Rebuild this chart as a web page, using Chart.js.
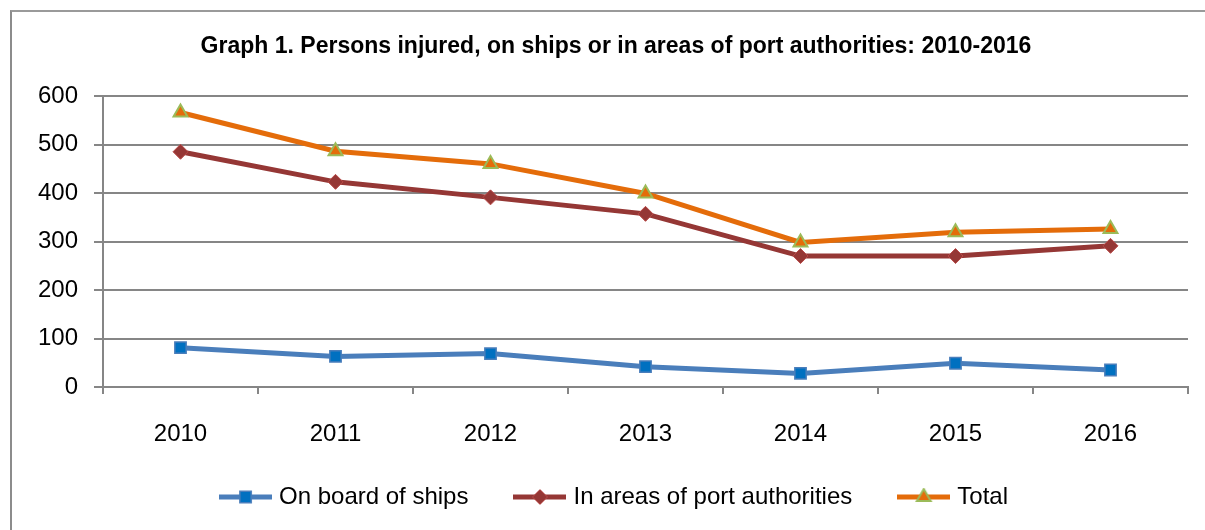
<!DOCTYPE html>
<html>
<head>
<meta charset="utf-8">
<script src="https://cdn.jsdelivr.net/npm/chart.js@4.4.0/dist/chart.umd.min.js"></script>
<style>
  body { margin: 0; background: #fff; }
  #wrap { position: relative; width: 1205px; height: 530px; overflow: hidden; }
  #frame { position: absolute; left: 10px; top: 10px; width: 1300px; height: 600px;
           border-left: 2px solid #8c8c8c; border-top: 2px solid #9a9a9a; }
  #chart { position: absolute; left: 0; top: 0; }
</style>
</head>
<body>
<div id="wrap">
  <div id="frame"></div>
  <canvas id="chart" width="1205" height="530"></canvas>
</div>
<script>
// Values
const years = ['2010', '2011', '2012', '2013', '2014', '2015', '2016'];
const onBoard = [81, 63, 69, 42, 28, 49, 35];
const portAreas = [485, 423, 391, 357, 270, 270, 291];
const totals = [566, 486, 460, 399, 298, 319, 326];
const yTicks = [0, 100, 200, 300, 400, 500, 600];

const FONT = "'Liberation Sans', Arial, sans-serif";
const GRID = '#868686';

const series = [
  { label: 'On board of ships', data: onBoard, line: '#4a7ebb', fill: '#0070c0', edge: '#4a7ebb',
    style: 'rect', radius: 8, edgeWidth: 1.5 },
  { label: 'In areas of port authorities', data: portAreas, line: '#953735', fill: '#953735', edge: '#b94a48',
    style: 'rectRot', radius: 7.5, edgeWidth: 1 },
  { label: 'Total', data: totals, line: '#e46c0a', fill: '#e46c0a', edge: '#9bbb59',
    style: 'triangle', radius: 8, edgeWidth: 2 }
];

// little line + marker picture for each legend entry
function legendIcon(s) {
  const c = document.createElement('canvas');
  c.width = 53; c.height = 18;
  const ctx = c.getContext('2d');
  ctx.strokeStyle = s.line;
  ctx.lineWidth = 5;
  ctx.beginPath();
  ctx.moveTo(0, 9); ctx.lineTo(53, 9);
  ctx.stroke();
  ctx.fillStyle = s.fill;
  ctx.strokeStyle = s.edge;
  ctx.lineWidth = s.edgeWidth;
  Chart.helpers.drawPoint(ctx, { pointStyle: s.style, radius: s.radius, rotation: 0, borderWidth: s.edgeWidth }, 26.5, 9);
  return c;
}

// title and legend are centred on the whole frame, not the area left of the y labels;
// the x labels hang a bit below their box, so widen the box's clip
const shiftBlocks = {
  id: 'shiftBlocks',
  afterLayout(ch) {
    ch.titleBlock.left += 44;
    ch.legend.left += 44;
    ch.scales.x.bottom += 40;
  }
};

const chart = new Chart(document.getElementById('chart').getContext('2d'), {
  type: 'line',
  data: {
    labels: years,
    datasets: series.map(s => ({
      label: s.label,
      data: s.data,
      borderColor: s.line,
      borderWidth: 5,
      backgroundColor: s.fill,
      pointStyle: s.style,
      pointRadius: s.radius,
      pointBackgroundColor: s.fill,
      pointBorderColor: s.edge,
      pointBorderWidth: s.edgeWidth,
      tension: 0,
      fill: false
    }))
  },
  plugins: [shiftBlocks],
  options: {
    responsive: false,
    animation: false,
    layout: { padding: { left: 0, right: 17, top: 0, bottom: 11 } },
    plugins: {
      tooltip: { enabled: false },
      title: {
        display: true,
        text: 'Graph 1. Persons injured, on ships or in areas of port authorities: 2010-2016',
        color: '#000',
        font: { family: FONT, size: 23, weight: 'bold' },
        padding: { top: 33, bottom: 35.4 }
      },
      legend: {
        position: 'bottom',
        labels: {
          color: '#000',
          font: { family: FONT, size: 24 },
          usePointStyle: true,
          pointStyleWidth: 43,
          padding: 50,
          generateLabels: (ch) => series.map((s, i) => ({
            text: s.label,
            pointStyle: legendIcon(s),
            fillStyle: s.fill,
            strokeStyle: s.line,
            lineWidth: 0,
            hidden: false,
            datasetIndex: i,
            fontColor: '#000'
          }))
        }
      }
    },
    scales: {
      x: {
        offset: true,
        afterFit: (scale) => { scale.height = 48; },
        grid: { drawOnChartArea: false, drawTicks: true, tickLength: 7, color: GRID, lineWidth: 2, offset: true },
        border: { color: GRID, width: 2 },
        ticks: { color: '#000', font: { family: FONT, size: 24 }, padding: 26 }
      },
      y: {
        min: 0,
        max: 600,
        afterFit: (scale) => { scale.width = 103; },
        afterBuildTicks: (scale) => { scale.ticks = yTicks.map(v => ({ value: v })); },
        grid: { color: GRID, lineWidth: 2, tickLength: 9 },
        border: { color: GRID, width: 2 },
        ticks: { color: '#000', font: { family: FONT, size: 24 }, padding: 16 }
      }
    }
  }
});
</script>
</body>
</html>
